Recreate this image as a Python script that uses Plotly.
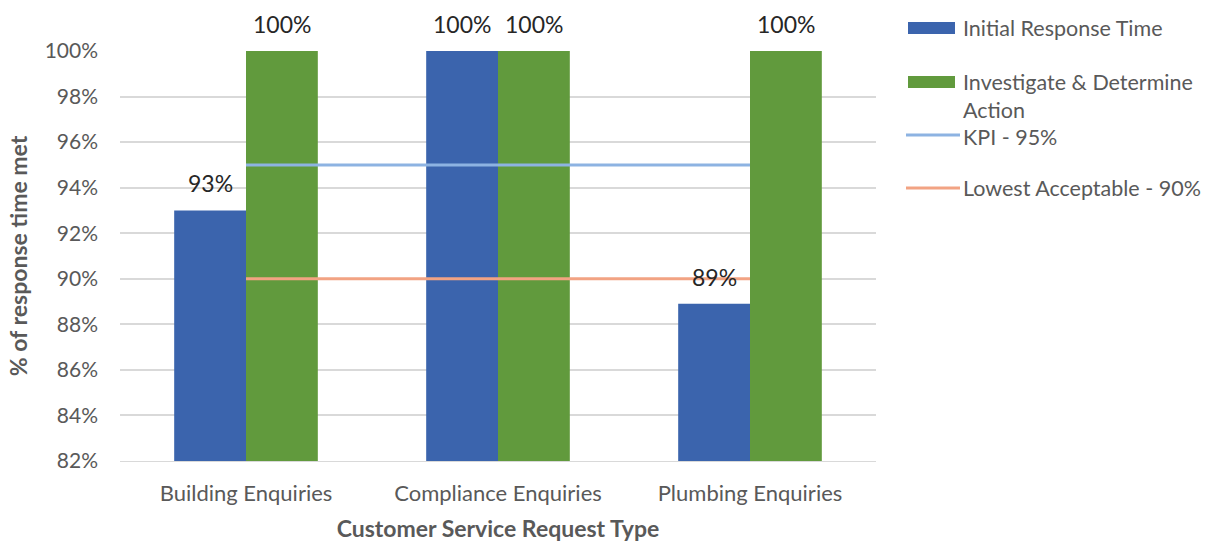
import plotly.graph_objects as go

# Data
categories = ["Building Enquiries", "Compliance Enquiries", "Plumbing Enquiries"]
initial_response = [93.0, 100.0, 88.9]
investigate_action = [100.0, 100.0, 100.0]
kpi_target = [95.0, 95.0, 95.0]
lowest_acceptable = [90.0, 90.0, 90.0]
y_ticks = [82, 84, 86, 88, 90, 92, 94, 96, 98, 100]

series_names = ["Initial Response Time", "Investigate & Determine<br>Action",
                "KPI - 95%", "Lowest Acceptable - 90%"]

BLUE = "#3b64ad"
GREEN = "#619a3d"
KPI_COL = "#8db3e2"
LOW_COL = "#f2a383"
TEXT = "#595959"
FONT = "Lato, Carlito, 'Noto Sans', sans-serif"
LEG_SIZE = 21.5

fig = go.Figure()

fig.add_trace(go.Bar(x=categories, y=initial_response, marker_color=BLUE,
                     marker_line_width=0, showlegend=False))
fig.add_trace(go.Bar(x=categories, y=investigate_action, marker_color=GREEN,
                     marker_line_width=0, showlegend=False))
fig.add_trace(go.Scatter(x=categories, y=kpi_target, mode="lines",
                         line=dict(color=KPI_COL, width=3), showlegend=False))
fig.add_trace(go.Scatter(x=categories, y=lowest_acceptable, mode="lines",
                         line=dict(color=LOW_COL, width=3), showlegend=False))

# Value labels above each bar
annotations = []
for values, shift in ((initial_response, -36), (investigate_action, 36)):
    for cat, v in zip(categories, values):
        annotations.append(dict(x=cat, y=v, xref="x", yref="y", text=f"{v:.0f}%",
                                showarrow=False, xshift=shift, yshift=27,
                                font=dict(family=FONT, size=23, color="#262626")))

# Legend drawn beside the plot area
L, R, T, B = 120, 876, 51, 461
W, H = R - L, B - T


def px(x):
    return (x - L) / W


def py(y):
    return (B - y) / H


shapes = []
legend_rows = [
    ("bar", BLUE, 28, 28, series_names[0]),
    ("bar", GREEN, 82, 82, series_names[1]),
    ("line", KPI_COL, 135, 137, series_names[2]),
    ("line", LOW_COL, 188, 188, series_names[3]),
]
for kind, col, yc, ytxt, label in legend_rows:
    if kind == "bar":
        shapes.append(dict(type="rect", xref="paper", yref="paper",
                           x0=px(908), x1=px(955), y0=py(yc + 6), y1=py(yc - 6),
                           fillcolor=col, line=dict(width=0)))
    else:
        shapes.append(dict(type="line", xref="paper", yref="paper",
                           x0=px(906), x1=px(960), y0=py(yc), y1=py(yc),
                           line=dict(color=col, width=3)))
    annotations.append(dict(x=px(962), y=py(ytxt - 0.65 * LEG_SIZE),
                            xref="paper", yref="paper",
                            xanchor="left", yanchor="top", align="left",
                            text=label, showarrow=False, borderpad=0,
                            font=dict(family=FONT, size=LEG_SIZE, color=TEXT)))

fig.update_layout(
    width=1216, height=542,
    margin=dict(l=L, r=1216 - R, t=T, b=542 - B),
    paper_bgcolor="white", plot_bgcolor="white",
    barmode="group", bargap=0.43, bargroupgap=0,
    font=dict(family=FONT, color=TEXT),
    annotations=annotations, shapes=shapes,
    xaxis=dict(
        automargin=False,
        showline=True, linecolor="#d9d9d9", linewidth=1,
        tickfont=dict(size=22, color=TEXT), ticks="", ticklabelstandoff=13,
        title=dict(text="<b>Customer Service Request Type</b>",
                   font=dict(size=23, color=TEXT), standoff=16),
    ),
    yaxis=dict(
        automargin=False,
        range=[82, 100], tickvals=y_ticks,
        ticktext=[f"{t}%" for t in y_ticks],
        showgrid=True, gridcolor="#d9d9d9", gridwidth=1.5,
        zeroline=False, ticks="", ticklabelstandoff=21,
        tickfont=dict(size=21, color=TEXT),
        title=dict(text="<b>% of response time met</b>",
                   font=dict(size=23, color=TEXT), standoff=10),
    ),
)

fig.write_html("out.html")
